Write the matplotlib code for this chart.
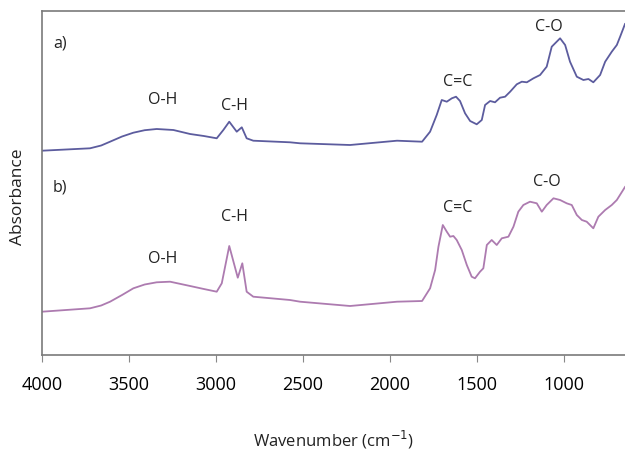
import matplotlib
matplotlib.use("Agg")
import matplotlib.pyplot as plt

# Wavenumber (cm-1) and absorbance (arbitrary, offset units)
wn_a = [4000, 3724, 3660, 3609, 3540, 3475, 3410, 3341, 3245, 3149, 3070, 2996, 2958, 2924,
        2881, 2852, 2824, 2786, 2575, 2517, 2230, 1960, 1816, 1770, 1732, 1703, 1674, 1645,
        1621, 1598, 1569, 1540, 1502, 1473, 1454, 1425, 1397, 1368, 1339, 1310, 1272, 1243,
        1214, 1176, 1138, 1100, 1071, 1023, 994, 966, 927, 889, 860, 832, 793, 764, 726, 697,
        678, 650]
ab_a = [204.3, 206.7, 209.5, 213.3, 218.5, 222.3, 224.8, 226, 225, 221, 219, 216.7, 225, 233.3,
        223.3, 227.7, 216.7, 214.3, 212.7, 211.7, 210, 214.3, 213.3, 223.3, 240, 255, 253.3, 256.7,
        258.3, 254, 241.7, 234, 230.7, 235, 250, 254, 252.7, 257.3, 258.3, 263.3, 270.7, 273.3,
        272.7, 276.7, 280, 288.3, 308.3, 316.7, 310, 293.3, 278.3, 275, 276, 272.7, 280, 293.3,
        303.3, 310, 318.3, 331]

wn_b = [4000, 3724, 3660, 3609, 3540, 3475, 3410, 3341, 3264, 3149, 3070, 2996, 2967, 2924,
        2875, 2849, 2824, 2786, 2575, 2517, 2230, 1960, 1816, 1770, 1741, 1722, 1697, 1674,
        1655, 1636, 1617, 1588, 1559, 1531, 1512, 1483, 1464, 1444, 1416, 1387, 1358, 1320,
        1291, 1263, 1234, 1196, 1157, 1128, 1100, 1061, 1023, 985, 956, 927, 898, 870, 832,
        803, 764, 726, 697, 650]
ab_b = [43.3, 46.7, 49.5, 53.3, 60, 66.7, 70.5, 72.7, 73.3, 69, 66, 63.3, 71.7, 109,
        77.3, 91.7, 63.3, 58.3, 55, 53.3, 49, 53.3, 54, 66.7, 85, 108.3, 130, 123.3,
        118.3, 119, 115, 105, 90, 78.3, 76.7, 83.3, 86.7, 110, 115, 110, 116.7, 118.3,
        128.3, 143.3, 150, 153.3, 151.7, 143.3, 150, 156.7, 155, 151.7, 150, 140, 135, 133.3, 126.7,
        138.3, 145, 150, 155, 168]

xticks = [4000, 3500, 3000, 2500, 2000, 1500, 1000]

labels_a = [("a)", 3895, 312), ("O-H", 3307, 255), ("C-H", 2891, 249), ("C=C", 1609, 273), ("C-O", 1086, 328)]
labels_b = [("b)", 3895, 168), ("O-H", 3307, 96), ("C-H", 2891, 138), ("C=C", 1609, 147), ("C-O", 1098, 172.5)]

font = "Open Sans"

fig = plt.figure(figsize=(6.25, 4.54), dpi=100)
ax = fig.add_axes([42/625, 1-355/454, 1-42/625, (355-11)/454])

ax.plot(wn_a, ab_a, color="#5c5c9e", lw=1.3)
ax.plot(wn_b, ab_b, color="#ad7bb0", lw=1.3)

ax.set_xlim(4000, 650)
ax.set_ylim(0, 344)

for t, x, y in labels_a + labels_b:
    ax.text(x, y, t, ha="center", va="center", fontsize=11.5, family=font, color="#222222")

ax.set_xticks(xticks)
ax.set_xticklabels([str(v) for v in xticks], family=font, fontsize=13)
ax.set_yticks([])
ax.tick_params(axis="x", direction="out", length=5, color="#888888", pad=10)

for s in ["left", "bottom", "top"]:
    ax.spines[s].set_color("#7a7a7a")
    ax.spines[s].set_linewidth(1.2)
ax.spines["right"].set_visible(False)

fig.text(333/625, 1-440/454, "Wavenumber (cm$^{-1}$)", ha="center", va="center",
         fontsize=12, family=font, color="#222222")
fig.text(18/625, 1-197/454, "Absorbance", ha="center", va="center", rotation=90,
         fontsize=12.5, family=font, color="#222222")

fig.savefig("out.png", dpi=100)
